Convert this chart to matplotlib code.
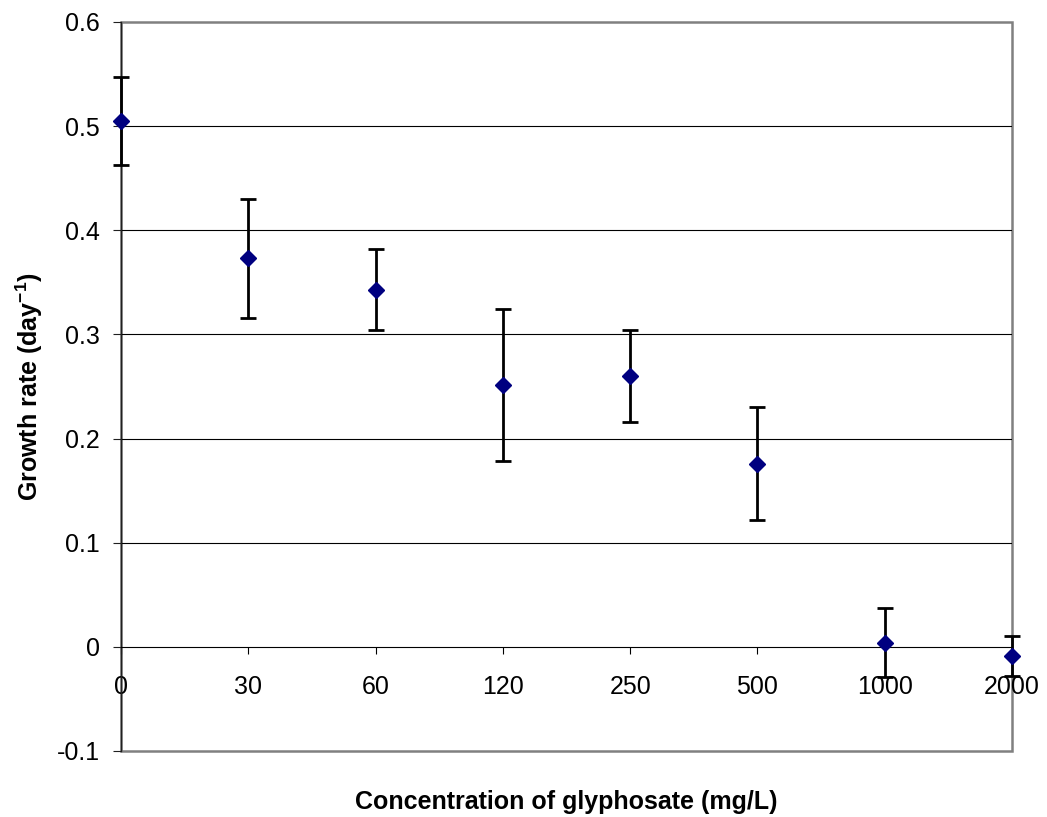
import numpy as np
import matplotlib
matplotlib.use("Agg")
import matplotlib.pyplot as plt
from matplotlib.patches import Rectangle

plt.rcParams["font.family"] = ["Liberation Sans", "DejaVu Sans"]
plt.rcParams["mathtext.fontset"] = "custom"
plt.rcParams["mathtext.rm"] = "Liberation Sans"
plt.rcParams["mathtext.bf"] = "Liberation Sans:bold"
plt.rcParams["axes.unicode_minus"] = False

# 데이터
concentrations = ["0", "30", "60", "120", "250", "500", "1000", "2000"]
growth_rate = [0.505, 0.373, 0.343, 0.251, 0.260, 0.176, 0.004, -0.009]
growth_err = [0.042, 0.057, 0.039, 0.073, 0.044, 0.054, 0.033, 0.019]
y_ticks = [-0.1, 0.0, 0.1, 0.2, 0.3, 0.4, 0.5, 0.6]
y_tick_labels = ["-0.1", "0", "0.1", "0.2", "0.3", "0.4", "0.5", "0.6"]

x = np.arange(len(concentrations))

fig = plt.figure(figsize=(10.47, 8.17), dpi=100)
ax = fig.add_axes([0.1156, 0.0808, 0.8510, 0.8923])

ax.errorbar(
    x, growth_rate, yerr=growth_err,
    fmt="none", ecolor="black", elinewidth=2.0, capsize=5.5, capthick=2.0,
    zorder=3, clip_on=False,
)
ax.plot(x, growth_rate, linestyle="none", marker="D", markersize=8,
        color="#000080", zorder=4, clip_on=False)

ax.set_xlim(0, len(concentrations) - 1)
ax.set_ylim(-0.1, 0.6)
ax.set_yticks(y_ticks)
ax.set_yticklabels(y_tick_labels)
ax.set_xticks(x)
ax.set_xticklabels(concentrations)

# 가로 그리드 (0.1 ~ 0.5)
for yv in y_ticks[2:-1]:
    ax.axhline(yv, color="black", linewidth=0.8, zorder=1)

# x축은 y=0 에서 교차
ax.spines["bottom"].set_position(("data", 0))
ax.spines["bottom"].set_color("black")
ax.spines["bottom"].set_linewidth(0.8)
ax.spines["left"].set_color("#202020")
ax.spines["left"].set_linewidth(1.0)
ax.spines["top"].set_visible(False)
ax.spines["right"].set_visible(False)

# 회색 테두리
ax.add_patch(Rectangle((0, 0), 1, 1, transform=ax.transAxes, fill=False,
                       edgecolor="#808080", linewidth=1.8, zorder=0.5,
                       clip_on=False))
ax.spines["left"].set_zorder(2)

ax.tick_params(axis="y", direction="out", length=6, width=0.8,
               labelsize=18, pad=9, color="#202020")
ax.tick_params(axis="x", direction="out", length=5, width=0.8,
               labelsize=18, pad=15, color="black")

ax.set_ylabel("Growth rate (day$^{\\mathbf{-1}}$)", fontsize=18,
              fontweight="bold")
ax.yaxis.set_label_coords(-0.085, 0.5)
ax.set_xlabel("Concentration of glyphosate (mg/L)", fontsize=18,
              fontweight="bold")
ax.xaxis.set_label_coords(0.5, -0.054)

fig.savefig("out.png", dpi=100)
